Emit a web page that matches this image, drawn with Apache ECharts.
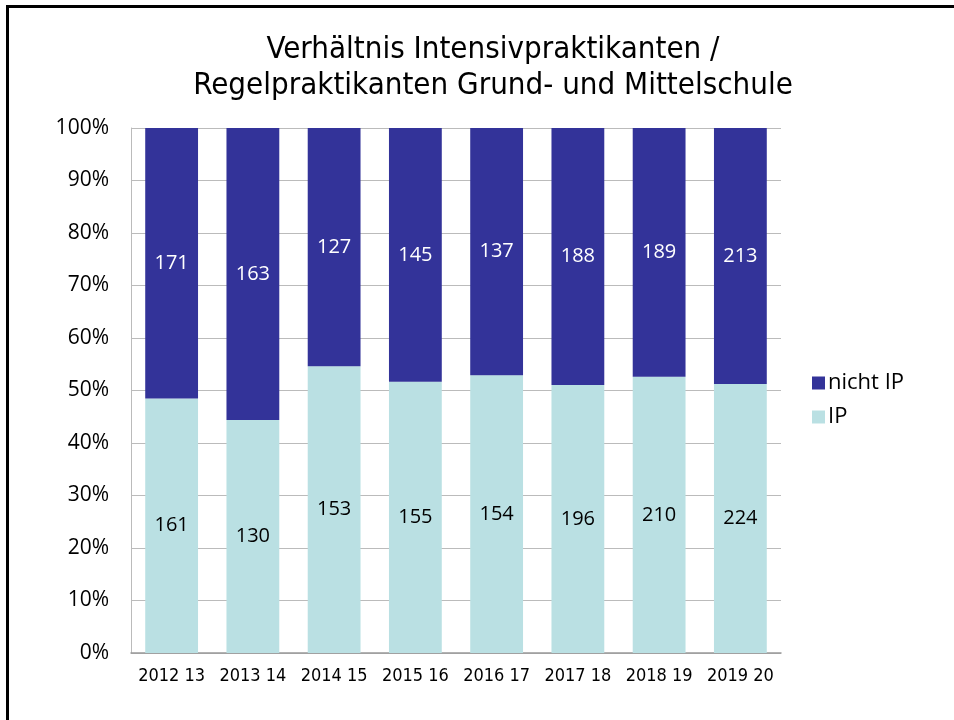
<!DOCTYPE html>
<html>
<head>
<meta charset="utf-8">
<script src="https://cdn.jsdelivr.net/npm/echarts@6/dist/echarts.min.js"></script>
<style>
  html, body { margin: 0; padding: 0; background: #fff; }
  #frame { position: absolute; left: 6px; top: 5px; width: 960px; height: 730px; border: 3px solid #000; box-sizing: border-box; }
  #chart { position: absolute; left: 0; top: 0; width: 954px; height: 720px; }
</style>
</head>
<body>
<div id="frame"></div>
<div id="chart"></div>
<script>
// Schuljahre
var years = ['2012 13', '2013 14', '2014 15', '2015 16', '2016 17', '2017 18', '2018 19', '2019 20'];
// Anzahl Praktikanten
var ipCounts = [161, 130, 153, 155, 154, 196, 210, 224];
var nichtIpCounts = [171, 163, 127, 145, 137, 188, 189, 213];
var yTicks = [0, 10, 20, 30, 40, 50, 60, 70, 80, 90, 100];

var fontMain = '"Liberation Sans Narrow", "DejaVu Sans Condensed", sans-serif';
var fontLabel = '"Open Sans", sans-serif';

// Anteile in Prozent fuer die 100%-Stapelung
function share(a, b) {
    return a.map(function (v, i) { return v / (v + b[i]) * 100; });
}
var ipShare = share(ipCounts, nichtIpCounts);
var nichtIpShare = share(nichtIpCounts, ipCounts);

var myChart = echarts.init(document.getElementById('chart'));
myChart.setOption({
    animation: false,
    title: {
        text: 'Verhältnis Intensivpraktikanten /\nRegelpraktikanten Grund- und Mittelschule',
        left: 488,
        textAlign: 'center',
        top: 27,
        textStyle: {
            fontFamily: fontMain,
            fontSize: 31,
            fontWeight: 'normal',
            color: '#000',
            lineHeight: 36
        }
    },
    legend: {
        orient: 'vertical',
        left: 807,
        top: 367,
        itemWidth: 13,
        itemHeight: 13,
        itemGap: 12,
        icon: 'rect',
        data: ['nicht IP', 'IP'],
        textStyle: { fontFamily: fontLabel, fontSize: 22, color: '#000', padding: [0, 0, 0, -2] }
    },
    grid: {
        left: 131,
        top: 128,
        width: 650,
        height: 525,
        containLabel: false
    },
    xAxis: {
        type: 'category',
        data: years,
        axisLine: { show: true, lineStyle: { color: '#999', width: 1.5 } },
        axisTick: { show: false },
        axisLabel: {
            interval: 0,
            fontFamily: fontMain,
            fontSize: 18,
            color: '#000',
            margin: 14
        }
    },
    yAxis: {
        type: 'value',
        min: 0,
        max: 100,
        interval: 10,
        axisLine: { show: true, lineStyle: { color: '#bbb' } },
        axisTick: { show: false },
        splitLine: { lineStyle: { color: '#bbb', width: 1 } },
        axisLabel: {
            fontFamily: fontLabel,
            fontSize: 21,
            color: '#000',
            margin: 22,
            formatter: function (v) { return yTicks.indexOf(v) >= 0 ? v + '%' : ''; }
        }
    },
    series: [
        {
            name: 'IP',
            type: 'bar',
            stack: 'total',
            barWidth: '65%',
            data: ipShare,
            itemStyle: { color: '#bae0e3' },
            label: {
                show: true,
                position: 'inside',
                fontFamily: fontLabel,
                fontSize: 20,
                color: '#000',
                formatter: function (p) { return ipCounts[p.dataIndex]; }
            }
        },
        {
            name: 'nicht IP',
            type: 'bar',
            stack: 'total',
            data: nichtIpShare,
            itemStyle: { color: '#333399' },
            label: {
                show: true,
                position: 'inside',
                fontFamily: fontLabel,
                fontSize: 20,
                color: '#fff',
                formatter: function (p) { return nichtIpCounts[p.dataIndex]; }
            }
        }
    ]
});
</script>
</body>
</html>
